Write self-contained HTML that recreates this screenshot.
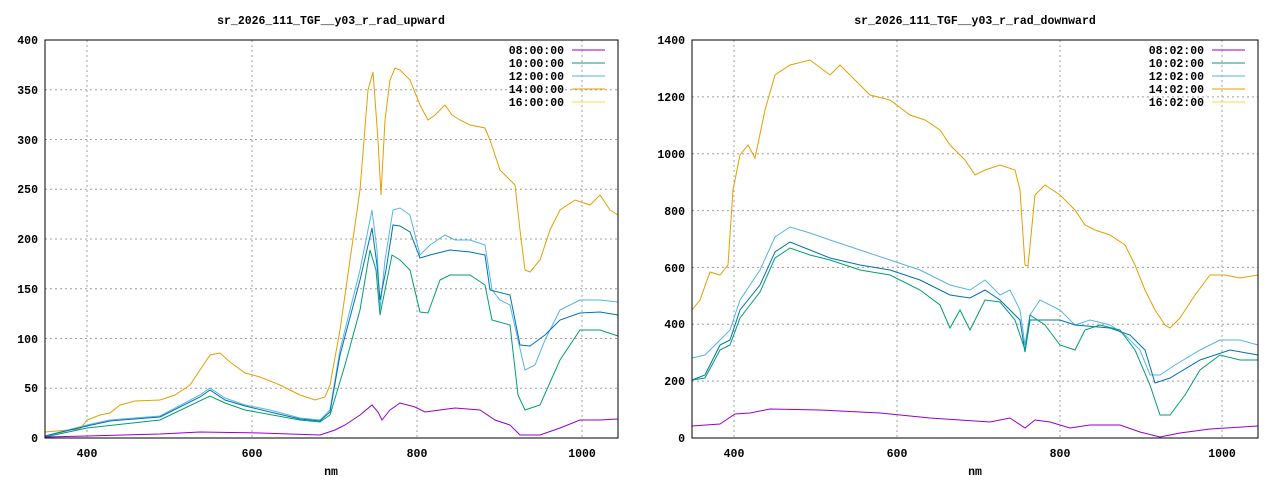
<!DOCTYPE html>
<html><head><meta charset="utf-8"><style>
body{margin:0;background:#fff}
svg{display:block}
text{font-family:"Liberation Mono",monospace;font-size:11.5px;font-weight:bold;fill:#000}
.g{stroke:#a0a0a0;stroke-width:1;stroke-dasharray:2,3}
polyline{fill:none;stroke-width:1}
</style></head><body>
<svg width="1280" height="480" xmlns="http://www.w3.org/2000/svg">
<rect width="1280" height="480" fill="#fff"/>
<!-- LEFT -->
<text x="331" y="24" text-anchor="middle" font-size="10.5">sr_2026_111_TGF__y03_r_rad_upward</text>
<g class="g">
<line x1="87" y1="40" x2="87" y2="438"/><line x1="252" y1="40" x2="252" y2="438"/><line x1="417" y1="40" x2="417" y2="438"/><line x1="582" y1="40" x2="582" y2="438"/>
<line x1="45" y1="388.3" x2="618" y2="388.3"/><line x1="45" y1="338.5" x2="618" y2="338.5"/><line x1="45" y1="288.8" x2="618" y2="288.8"/><line x1="45" y1="239" x2="618" y2="239"/><line x1="45" y1="189.3" x2="618" y2="189.3"/><line x1="45" y1="139.5" x2="618" y2="139.5"/><line x1="45" y1="89.8" x2="618" y2="89.8"/>
</g>
<g text-anchor="end">
<text x="38" y="442">0</text><text x="38" y="392">50</text><text x="38" y="343">100</text><text x="38" y="293">150</text><text x="38" y="243">200</text><text x="38" y="193">250</text><text x="38" y="144">300</text><text x="38" y="94">350</text><text x="38" y="44">400</text>
</g>
<g text-anchor="middle"><text x="87" y="457">400</text><text x="252" y="457">600</text><text x="417" y="457">800</text><text x="582" y="457">1000</text><text x="331" y="475" font-size="10.5">nm</text></g>
<polyline stroke="#e69f00" points="45,432 80,429 87,420 100,415 110,413 120,405 135,401 160,400 175,395 190,385 200,370 210,355 220,353 230,362 245,373 260,377 280,385 300,395 315,400 325,397 330,385 340,330 350,260 360,190 368,90 373,72 378,140 381,195 385,120 390,80 395,68 400,70 410,80 420,105 428,120 435,115 445,105 452,115 460,120 470,125 485,128 490,140 500,170 510,180 515,185 520,230 525,270 530,272 540,260 550,230 560,210 575,200 590,205 600,195 610,210 618,215"/>
<polyline stroke="#56b4e9" points="45,436 87,425 110,420 160,416 200,395 210,388 225,398 245,405 270,410 300,418 320,420 330,410 340,350 360,270 372,210 377,250 380,310 385,260 393,210 400,208 410,215 420,255 430,245 445,235 455,240 470,240 485,245 492,290 500,300 510,305 518,340 525,370 535,365 545,340 560,310 580,300 600,300 618,302"/>
<polyline stroke="#0072b2" points="45,436 87,426 110,421 160,417 200,397 210,390 225,400 245,406 270,412 300,419 320,421 330,412 340,355 360,280 372,228 377,265 380,300 386,270 393,225 400,226 410,232 420,258 430,255 450,250 470,252 485,255 490,290 510,295 520,345 530,346 545,335 560,320 580,313 600,312 618,315"/>
<polyline stroke="#009e73" points="45,437 87,428 160,420 210,396 225,403 245,410 300,420 320,422 330,415 345,365 360,310 370,250 376,270 380,315 386,285 392,255 400,260 410,270 420,312 428,313 440,280 450,275 470,275 485,285 492,320 510,325 518,395 525,410 540,405 560,360 580,330 600,330 618,336"/>
<polyline stroke="#9400d3" points="45,437 87,436 160,434 200,432 260,433 320,435 335,430 345,425 360,415 372,405 378,412 382,420 390,410 400,403 415,407 425,412 440,410 455,408 480,410 495,420 510,425 520,435 540,435 560,428 580,420 600,420 618,419"/>
<rect x="45" y="40" width="573" height="398" fill="none" stroke="#000"/>
<g text-anchor="end">
<text x="564" y="54">08:00:00</text><text x="564" y="67">10:00:00</text><text x="564" y="80">12:00:00</text><text x="564" y="93">14:00:00</text><text x="564" y="106">16:00:00</text>
</g>
<line x1="572" y1="50" x2="605" y2="50" stroke="#9400d3"/><line x1="572" y1="63" x2="605" y2="63" stroke="#009e73"/><line x1="572" y1="76" x2="605" y2="76" stroke="#56b4e9"/><line x1="572" y1="89" x2="605" y2="89" stroke="#e69f00"/><line x1="572" y1="102" x2="605" y2="102" stroke="#f0e442"/>

<!-- RIGHT -->
<text x="975" y="24" text-anchor="middle" font-size="10.5">sr_2026_111_TGF__y03_r_rad_downward</text>
<g class="g">
<line x1="734" y1="40" x2="734" y2="438"/><line x1="897" y1="40" x2="897" y2="438"/><line x1="1060" y1="40" x2="1060" y2="438"/><line x1="1222" y1="40" x2="1222" y2="438"/>
<line x1="692" y1="381.1" x2="1258" y2="381.1"/><line x1="692" y1="324.3" x2="1258" y2="324.3"/><line x1="692" y1="267.4" x2="1258" y2="267.4"/><line x1="692" y1="210.6" x2="1258" y2="210.6"/><line x1="692" y1="153.7" x2="1258" y2="153.7"/><line x1="692" y1="96.9" x2="1258" y2="96.9"/>
</g>
<g text-anchor="end">
<text x="685" y="442">0</text><text x="685" y="385">200</text><text x="685" y="328">400</text><text x="685" y="272">600</text><text x="685" y="215">800</text><text x="685" y="158">1000</text><text x="685" y="101">1200</text><text x="685" y="44">1400</text>
</g>
<g text-anchor="middle"><text x="734" y="457">400</text><text x="897" y="457">600</text><text x="1060" y="457">800</text><text x="1222" y="457">1000</text><text x="975" y="475" font-size="10.5">nm</text></g>
<polyline stroke="#e69f00" points="692,310 700,300 710,272 720,275 728,265 733,190 740,155 748,145 755,158 765,110 775,75 790,65 810,60 830,75 840,65 855,80 870,95 890,100 910,115 925,120 940,130 950,145 965,160 975,175 985,170 1000,165 1015,170 1020,190 1025,265 1028,266 1035,195 1045,185 1060,195 1075,210 1085,225 1095,230 1110,235 1125,245 1135,265 1145,290 1155,310 1165,325 1170,328 1180,318 1195,295 1210,275 1225,275 1240,278 1258,275"/>
<polyline stroke="#56b4e9" points="692,358 705,355 720,340 730,330 740,300 760,270 775,237 790,227 810,233 830,240 860,250 890,260 920,270 950,285 970,290 985,280 1000,295 1010,290 1020,310 1025,345 1030,315 1040,300 1060,310 1075,325 1090,320 1110,325 1125,335 1140,350 1150,375 1160,375 1175,365 1200,350 1220,340 1240,340 1258,345"/>
<polyline stroke="#0072b2" points="692,380 705,375 720,345 730,340 740,310 760,285 775,252 790,242 810,250 830,258 860,265 890,270 920,280 950,295 970,298 985,290 1000,300 1020,320 1025,352 1030,320 1060,320 1075,325 1110,328 1130,335 1145,350 1155,383 1170,378 1200,360 1230,350 1258,355"/>
<polyline stroke="#009e73" points="692,380 705,378 720,350 730,345 740,318 760,292 775,258 790,248 810,255 830,260 860,270 890,275 920,290 940,305 950,328 960,310 970,330 985,300 1000,302 1015,320 1025,350 1030,315 1045,325 1060,345 1075,350 1085,330 1100,325 1120,330 1135,350 1150,385 1160,415 1170,415 1185,395 1200,370 1220,355 1240,360 1258,360"/>
<polyline stroke="#9400d3" points="692,426 720,424 735,414 750,413 770,409 820,410 880,413 930,418 960,420 990,422 1010,418 1025,428 1035,420 1050,422 1070,428 1090,425 1120,425 1140,432 1160,437 1180,433 1210,429 1258,426"/>
<rect x="692" y="40" width="566" height="398" fill="none" stroke="#000"/>
<g text-anchor="end">
<text x="1204" y="54">08:02:00</text><text x="1204" y="67">10:02:00</text><text x="1204" y="80">12:02:00</text><text x="1204" y="93">14:02:00</text><text x="1204" y="106">16:02:00</text>
</g>
<line x1="1212" y1="50" x2="1245" y2="50" stroke="#9400d3"/><line x1="1212" y1="63" x2="1245" y2="63" stroke="#009e73"/><line x1="1212" y1="76" x2="1245" y2="76" stroke="#56b4e9"/><line x1="1212" y1="89" x2="1245" y2="89" stroke="#e69f00"/><line x1="1212" y1="102" x2="1245" y2="102" stroke="#f0e442"/>
</svg>
</body></html>
